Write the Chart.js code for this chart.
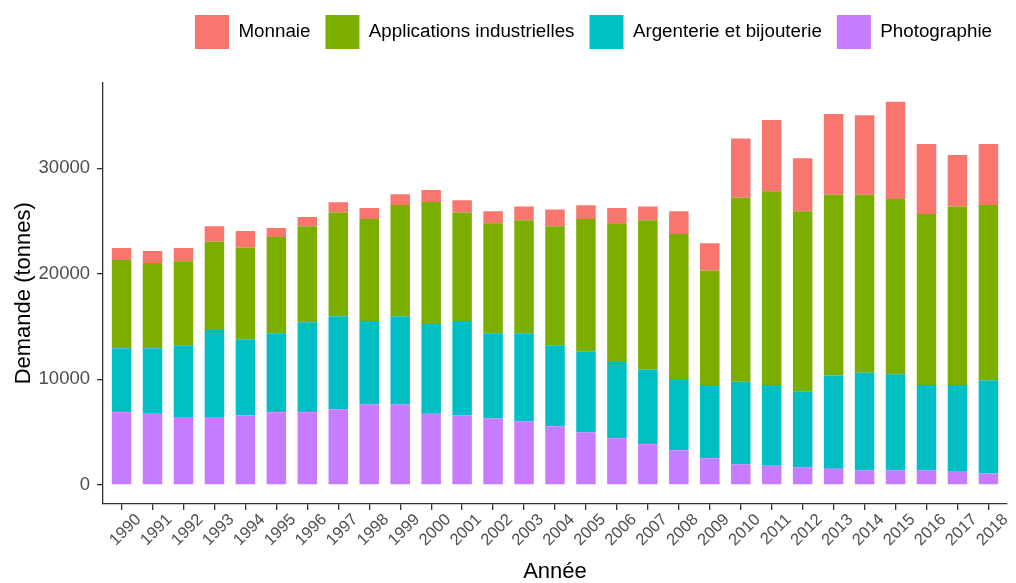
<!DOCTYPE html>
<html>
<head>
<meta charset="utf-8">
<title>Demande d'argent par usage</title>
<script src="https://cdn.jsdelivr.net/npm/chart.js@4.4.1/dist/chart.umd.min.js"></script>
<style>
  html, body { margin: 0; padding: 0; background: #fff; }
  #wrap { width: 1016px; height: 583px; }
</style>
</head>
<body>
<div id="wrap"><canvas id="chart" width="1016" height="583"></canvas></div>
<script>
// demand in tonnes
const years = [1990, 1991, 1992, 1993, 1994, 1995, 1996, 1997, 1998, 1999,
  2000, 2001, 2002, 2003, 2004, 2005, 2006, 2007, 2008, 2009,
  2010, 2011, 2012, 2013, 2014, 2015, 2016, 2017, 2018];

const photographie = [6890, 6725, 6440, 6440, 6600, 6890, 6890, 7170, 7610, 7610,
  6725, 6600, 6280, 6000, 5560, 4990, 4420, 3850, 3285, 2520,
  1960, 1800, 1675, 1515, 1390, 1390, 1390, 1230, 1070];

const argenterie = [6060, 6225, 6790, 8240, 7200, 7480, 8520, 8810, 7925, 8370,
  8525, 8935, 8090, 8370, 7670, 7670, 7230, 7075, 6755, 6950,
  7800, 7670, 7200, 8840, 9220, 9095, 8080, 8240, 8850];

const industrie = [8360, 8080, 7960, 8370, 8680, 9120, 9090, 9820, 9665, 10540,
  11560, 10265, 10420, 10700, 11270, 12540, 13140, 14145, 13735, 10830,
  17455, 18350, 17050, 17145, 16890, 16605, 16200, 16895, 16600];

const monnaie = [1140, 1135, 1260, 1450, 1580, 850, 890, 980, 1040, 1015,
  1130, 1170, 1135, 1295, 1580, 1290, 1450, 1295, 2150, 2590,
  5615, 6755, 5025, 7640, 7520, 9220, 6630, 4895, 5780];

const yTicks = [0, 10000, 20000, 30000];

Chart.defaults.font.family = "'Liberation Sans', Arial, sans-serif";

const axisColor = '#333333';
const tickColor = '#4D4D4D';

const ctx = document.getElementById('chart');

new Chart(ctx, {
  type: 'bar',
  data: {
    labels: years,
    datasets: [
      { label: 'Photographie', data: photographie, backgroundColor: '#C77CFF' },
      { label: 'Argenterie et bijouterie', data: argenterie, backgroundColor: '#00BFC4' },
      { label: 'Applications industrielles', data: industrie, backgroundColor: '#7CAE00' },
      { label: 'Monnaie', data: monnaie, backgroundColor: '#F8766D' }
    ]
  },
  options: {
    responsive: false,
    animation: false,
    devicePixelRatio: 1,
    layout: { padding: { top: 0, right: 9, left: 0, bottom: 0 } },
    datasets: { bar: { barPercentage: 0.63, categoryPercentage: 1 } },
    plugins: {
      tooltip: { enabled: false },
      legend: {
        position: 'top',
        align: 'end',
        reverse: true,
        labels: {
          boxWidth: 34,
          boxHeight: 34,
          padding: 15,
          color: '#000',
          font: { size: 18.8 }
        }
      },
      // empty subtitle used as a gap between legend and plot
      subtitle: {
        display: true,
        text: '',
        weight: 500,
        padding: 0,
        font: { size: 10, lineHeight: 2.35 }
      }
    },
    scales: {
      x: {
        type: 'linear',
        stacked: true,
        offset: false,
        min: 1989.4,
        max: 2018.6,
        afterBuildTicks: s => { s.ticks = years.map(v => ({ value: v })); },
        afterFit: s => { s.height = 79; },
        grid: { offset: false, drawOnChartArea: false, drawTicks: true, tickLength: 6, color: axisColor, lineWidth: 1.3 },
        border: { color: axisColor, width: 1.3 },
        ticks: {
          autoSkip: false,
          minRotation: 45,
          maxRotation: 45,
          padding: 0,
          labelOffset: 17,
          color: tickColor,
          font: { size: 16.5 },
          callback: v => String(v)
        },
        title: {
          display: true,
          text: 'Année',
          color: '#000',
          font: { size: 22, lineHeight: 1 },
          padding: 0
        }
      },
      y: {
        stacked: true,
        min: -1816,
        max: 38126,
        afterBuildTicks: s => { s.ticks = yTicks.map(v => ({ value: v })); },
        afterFit: s => { s.width = 103; },
        grid: { drawOnChartArea: false, drawTicks: true, tickLength: 6, color: axisColor, lineWidth: 1.3 },
        border: { color: axisColor, width: 1.3 },
        ticks: {
          padding: 7,
          color: tickColor,
          font: { size: 18.5 },
          callback: v => String(v)
        },
        title: {
          display: true,
          text: 'Demande (tonnes)',
          color: '#000',
          font: { size: 22, lineHeight: 1 },
          padding: { top: 13, bottom: 0 }
        }
      }
    }
  }
});
</script>
</body>
</html>
